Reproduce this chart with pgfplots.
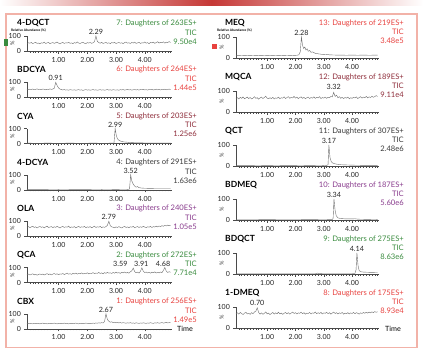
\documentclass[border=0pt]{standalone}
\usepackage{fontspec}
\setmainfont{Lato}
\usepackage{pgfplots}
\pgfplotsset{compat=1.18}
\definecolor{cgreen}{HTML}{3A8C3F}
\definecolor{cred}{HTML}{E8423F}
\definecolor{cmaroon}{HTML}{8F2E3B}
\definecolor{cdark}{HTML}{3A3A3A}
\definecolor{cpurple}{HTML}{8A3D8E}
\definecolor{cborder}{HTML}{F2B2A8}
\definecolor{trace}{HTML}{6E6E6E}
\definecolor{axc}{HTML}{4A4A4A}
\newcommand\lblfont{\fontsize{7.6}{8}\selectfont}
\newcommand\titlefont{\bfseries\fontsize{8.5}{9}\selectfont}
\newcommand\pkfont{\fontsize{7.2}{8}\selectfont}
\pgfplotsset{
  chrom/.style={
    scale only axis, anchor=south west,
    xmin=-0.1, xmax=4.95, ymin=0, ymax=100,
    axis lines=left, axis line style={-, draw=axc, line width=0.4pt},
    xtick={1,2,3,4}, minor xtick={0,0.1,...,4.9},
    ytick={0,100},
    tick align=outside, major tick length=2.6pt, minor tick length=1.6pt,
    tick style={draw=axc, line width=0.35pt},
    xticklabel style={/pgf/number format/.cd, fixed, fixed zerofill, precision=2, assume math mode=true},
    yticklabel style={/pgf/number format/assume math mode=true},
    tick label style={font=\fontsize{7}{8}\selectfont, text=black!85},
    ylabel={\%}, ylabel style={at={(axis description cs:-0.1,0.5)}, anchor=center, font=\fontsize{5.5}{6}\selectfont, text=black!80},
    clip=false,
    cycle list={{draw=trace, line width=0.35pt, mark=none}},
    no markers,
  },
  L/.style={chrom, width=145pt, height=15pt},
  R/.style={chrom, width=143pt, height=21pt},
}
\newcommand{\pk}[2]{\node[font=\pkfont, text=black!85, anchor=south, inner sep=0pt, yshift=1.2pt] at (axis cs:#1,100) {#2};}
\newcommand{\LT}[5]{%
  \node[anchor=west,inner sep=0pt,font=\titlefont] at (17,#1-27.5) {#2};
  \node[anchor=east,inner sep=0pt,font=\lblfont,text=#3] at (197,#1-27.5) {#4};
  \node[anchor=east,inner sep=0pt,font=\lblfont,text=#3] at (197,#1-18.5) {TIC};
  \node[anchor=east,inner sep=0pt,font=\lblfont,text=#3] at (197,#1-9.5) {#5};}
\newcommand{\RT}[5]{%
  \node[anchor=west,inner sep=0pt,font=\titlefont] at (225,#1-35) {#2};
  \node[anchor=east,inner sep=0pt,font=\lblfont,text=#3] at (404,#1-35) {#4};
  \node[anchor=east,inner sep=0pt,font=\lblfont,text=#3] at (404,#1-26) {TIC};
  \node[anchor=east,inner sep=0pt,font=\lblfont,text=#3] at (404,#1-17) {#5};}
\begin{document}
\begin{tikzpicture}
\useasboundingbox (0,0) rectangle (423pt,352pt);
\fill[white] (0,0) rectangle (423pt,352pt);
\shade[left color=white, right color=white, middle color=cred!85!black] (0,346pt) rectangle (423pt,352pt);
\draw[cborder, line width=1.3pt] (6pt,4.5pt) rectangle (417pt,338pt);
% ---------- LEFT COLUMN ----------
% 4-DQCT
\begin{axis}[L, at={(27pt,301pt)}]
\addplot coordinates {(-0.10,50)(-0.05,55)(0.00,52)(0.05,57)(0.10,49)(0.15,54)(0.20,58)(0.25,51)(0.30,53)(0.35,48)
(0.40,55)(0.45,52)(0.50,59)(0.55,50)(0.60,54)(0.65,57)(0.70,49)(0.75,53)(0.80,56)(0.85,51)
(0.90,55)(0.95,60)(1.00,52)(1.05,48)(1.10,54)(1.15,57)(1.20,50)(1.25,55)(1.30,53)(1.35,58)
(1.40,51)(1.45,54)(1.50,49)(1.55,56)(1.60,52)(1.65,60)(1.70,53)(1.75,50)(1.80,55)(1.85,58)
(1.90,52)(1.95,49)(2.00,56)(2.05,53)(2.10,57)(2.15,51)(2.20,55)(2.25,62)(2.30,100)(2.35,64)
(2.40,56)(2.45,52)(2.50,58)(2.55,50)(2.60,54)(2.65,57)(2.70,51)(2.75,55)(2.80,49)(2.85,56)
(2.90,53)(2.95,58)(3.00,50)(3.05,54)(3.10,57)(3.15,52)(3.20,55)(3.25,49)(3.30,56)(3.35,60)
(3.40,52)(3.45,55)(3.50,50)(3.55,57)(3.60,53)(3.65,59)(3.70,51)(3.75,54)(3.80,58)(3.85,50)
(3.90,55)(3.95,53)(4.00,60)(4.05,52)(4.10,56)(4.15,49)(4.20,57)(4.25,54)(4.30,59)(4.35,51)
(4.40,56)(4.45,62)(4.50,53)(4.55,58)(4.60,55)(4.65,61)(4.70,52)(4.75,59)(4.80,56)(4.85,63)(4.90,57)};
\pk{2.30}{2.29}
\end{axis}
% BDCYA
\begin{axis}[L, at={(27pt,254.7pt)}]
\addplot coordinates {(-0.10,53)(-0.05,51)(0.00,54)(0.05,52)(0.10,55)(0.15,51)(0.20,53)(0.25,56)(0.30,52)(0.35,54)
(0.40,51)(0.45,55)(0.50,53)(0.55,50)(0.60,54)(0.65,52)(0.70,56)(0.75,53)(0.80,55)(0.85,60)
(0.90,100)(0.95,78)(1.00,62)(1.05,55)(1.10,51)(1.15,49)(1.20,52)(1.25,48)(1.30,50)(1.35,47)
(1.40,51)(1.45,49)(1.50,48)(1.55,50)(1.60,47)(1.65,49)(1.70,51)(1.75,48)(1.80,50)(1.85,46)
(1.90,49)(1.95,51)(2.00,48)(2.05,50)(2.10,47)(2.15,49)(2.20,52)(2.25,48)(2.30,50)(2.35,47)
(2.40,49)(2.45,51)(2.50,48)(2.55,50)(2.60,47)(2.65,49)(2.70,52)(2.75,48)(2.80,50)(2.85,47)
(2.90,51)(2.95,49)(3.00,48)(3.05,50)(3.10,47)(3.15,51)(3.20,49)(3.25,52)(3.30,48)(3.35,50)
(3.40,53)(3.45,49)(3.50,51)(3.55,48)(3.60,50)(3.65,52)(3.70,49)(3.75,51)(3.80,48)(3.85,52)
(3.90,50)(3.95,53)(4.00,49)(4.05,51)(4.10,48)(4.15,52)(4.20,50)(4.25,53)(4.30,49)(4.35,51)
(4.40,54)(4.45,50)(4.50,52)(4.55,49)(4.60,53)(4.65,51)(4.70,54)(4.75,50)(4.80,52)(4.85,55)(4.90,51)};
\pk{0.90}{0.91}
\end{axis}
% CYA
\begin{axis}[L, at={(27pt,208.4pt)}]
\addplot coordinates {(-0.10,3)(0.30,2)(0.60,3)(1.00,2)(1.40,3)(1.80,2)(2.20,3)(2.60,2)(2.85,3)(2.93,4)(2.97,100)(3.01,55)(3.05,32)(3.10,22)(3.18,15)(3.28,11)(3.40,9)(3.50,7)(3.60,6)(3.80,5)(4.00,4)(4.40,3)(4.90,3)};
\pk{2.97}{2.99}
\end{axis}
% 4-DCYA
\begin{axis}[L, at={(27pt,162.1pt)}]
\addplot coordinates {(-0.10,2)(0.50,2)(1.00,3)(1.50,2)(2.00,2)(2.50,3)(3.00,2)(3.40,3)(3.47,5)(3.51,100)(3.55,60)(3.60,38)(3.65,25)(3.70,18)(3.75,22)(3.80,15)(3.90,12)(4.00,11)(4.20,10)(4.50,9)(4.90,9)};
\pk{3.51}{3.52}
\end{axis}
% OLA
\begin{axis}[L, at={(27pt,115.8pt)}]
\addplot coordinates {(-0.10,60)(-0.05,64)(0.00,57)(0.05,62)(0.10,66)(0.15,58)(0.20,63)(0.25,55)(0.30,61)(0.35,65)
(0.40,59)(0.45,63)(0.50,56)(0.55,62)(0.60,67)(0.65,58)(0.70,61)(0.75,64)(0.80,57)(0.85,63)
(0.90,59)(0.95,66)(1.00,60)(1.05,55)(1.10,62)(1.15,65)(1.20,58)(1.25,63)(1.30,60)(1.35,67)
(1.40,57)(1.45,62)(1.50,59)(1.55,64)(1.60,56)(1.65,61)(1.70,66)(1.75,58)(1.80,63)(1.85,60)
(1.90,65)(1.95,57)(2.00,62)(2.05,59)(2.10,64)(2.15,56)(2.20,61)(2.25,67)(2.30,58)(2.35,63)
(2.40,60)(2.45,65)(2.50,57)(2.55,62)(2.60,59)(2.65,64)(2.70,72)(2.75,100)(2.80,70)(2.85,62)
(2.90,60)(2.95,56)(3.00,62)(3.05,58)(3.10,64)(3.15,59)(3.20,55)(3.25,61)(3.30,66)(3.35,58)
(3.40,62)(3.45,57)(3.50,63)(3.55,60)(3.60,65)(3.65,56)(3.70,61)(3.75,64)(3.80,58)(3.85,63)
(3.90,59)(3.95,66)(4.00,61)(4.05,57)(4.10,63)(4.15,60)(4.20,65)(4.25,58)(4.30,64)(4.35,61)
(4.40,67)(4.45,62)(4.50,68)(4.55,64)(4.60,70)(4.65,66)(4.70,72)(4.75,68)(4.80,74)(4.85,70)(4.90,73)};
\pk{2.75}{2.79}
\end{axis}
% QCA
\begin{axis}[L, at={(27pt,69.5pt)}]
\addplot coordinates {(-0.10,52)(-0.05,56)(0.00,50)(0.05,54)(0.10,58)(0.15,51)(0.20,55)(0.25,49)(0.30,53)(0.35,57)
(0.40,52)(0.45,56)(0.50,50)(0.55,55)(0.60,59)(0.65,53)(0.70,57)(0.75,51)(0.80,56)(0.85,60)
(0.90,54)(0.95,58)(1.00,52)(1.05,57)(1.10,55)(1.15,60)(1.20,53)(1.25,58)(1.30,62)(1.35,55)
(1.40,59)(1.45,54)(1.50,61)(1.55,57)(1.60,63)(1.65,56)(1.70,60)(1.75,58)(1.80,64)(1.85,57)
(1.90,61)(1.95,59)(2.00,65)(2.05,58)(2.10,62)(2.15,60)(2.20,66)(2.25,59)(2.30,63)(2.35,61)
(2.40,67)(2.45,60)(2.50,64)(2.55,58)(2.60,66)(2.65,61)(2.70,68)(2.75,62)(2.80,65)(2.85,60)
(2.90,67)(2.95,62)(3.00,69)(3.05,63)(3.10,66)(3.15,61)(3.20,68)(3.25,64)(3.30,70)(3.35,63)
(3.40,67)(3.45,62)(3.50,71)(3.55,78)(3.60,96)(3.65,72)(3.70,65)(3.75,69)(3.80,63)(3.85,74)
(3.90,98)(3.95,75)(4.00,66)(4.05,70)(4.10,64)(4.15,68)(4.20,62)(4.25,69)(4.30,65)(4.35,71)
(4.40,63)(4.45,68)(4.50,64)(4.55,70)(4.60,66)(4.65,80)(4.70,100)(4.75,76)(4.80,67)(4.85,72)(4.90,68)};
\pk{3.15}{3.59}\pk{3.88}{3.91}\pk{4.64}{4.68}
\end{axis}
% CBX
\begin{axis}[L, at={(27pt,23.2pt)}]
\addplot coordinates {(-0.10,36)(-0.05,34)(0.00,37)(0.05,35)(0.10,33)(0.15,36)(0.20,34)(0.25,37)(0.30,35)(0.35,33)
(0.40,36)(0.45,38)(0.50,34)(0.55,36)(0.60,33)(0.65,35)(0.70,37)(0.75,34)(0.80,36)(0.85,38)
(0.90,35)(0.95,33)(1.00,36)(1.05,34)(1.10,37)(1.15,35)(1.20,38)(1.25,34)(1.30,36)(1.35,33)
(1.40,35)(1.45,37)(1.50,34)(1.55,36)(1.60,38)(1.65,35)(1.70,33)(1.75,36)(1.80,34)(1.85,37)
(1.90,35)(1.95,38)(2.00,36)(2.05,34)(2.10,37)(2.15,35)(2.20,38)(2.25,36)(2.30,39)(2.35,37)
(2.40,40)(2.45,38)(2.50,41)(2.55,39)(2.60,48)(2.65,100)(2.70,62)(2.75,50)(2.80,44)(2.85,47)
(2.90,41)(2.95,44)(3.00,40)(3.05,43)(3.10,39)(3.15,42)(3.20,38)(3.25,41)(3.30,39)(3.35,37)
(3.40,40)(3.45,38)(3.50,41)(3.55,37)(3.60,39)(3.65,36)(3.70,40)(3.75,38)(3.80,36)(3.85,39)
(3.90,37)(3.95,40)(4.00,38)(4.05,36)(4.10,39)(4.15,37)(4.20,41)(4.25,38)(4.30,36)(4.35,40)
(4.40,38)(4.45,41)(4.50,37)(4.55,39)(4.60,42)(4.65,38)(4.70,40)(4.75,43)(4.80,39)(4.85,41)(4.90,42)};
\pk{2.65}{2.67}
\end{axis}
% ---------- RIGHT COLUMN ----------
% MEQ
\begin{axis}[R, at={(236pt,294pt)}]
\addplot coordinates {(-0.10,12)(0.10,13)(0.30,12)(0.50,13)(0.70,12)(0.90,13)(1.10,12)(1.30,13)(1.50,12)(1.70,13)(1.90,12)(2.05,13)(2.12,15)(2.17,30)(2.21,100)(2.25,60)(2.29,45)(2.33,52)(2.37,38)(2.41,44)(2.45,32)(2.50,36)(2.55,27)(2.60,29)(2.70,22)(2.80,20)(2.90,18)(3.00,16)(3.10,17)(3.20,15)(3.40,14)(3.60,14)(3.80,13)(4.00,14)(4.20,13)(4.40,14)(4.60,13)(4.90,14)};
\pk{2.21}{2.28}
\end{axis}
% MQCA
\begin{axis}[R, at={(236pt,240pt)}]
\addplot coordinates {(-0.10,64)(-0.05,68)(0.00,62)(0.05,70)(0.10,65)(0.15,72)(0.20,63)(0.25,67)(0.30,71)(0.35,64)
(0.40,69)(0.45,62)(0.50,66)(0.55,73)(0.60,65)(0.65,68)(0.70,61)(0.75,67)(0.80,71)(0.85,64)
(0.90,69)(0.95,75)(1.00,66)(1.05,63)(1.10,68)(1.15,64)(1.20,70)(1.25,62)(1.30,67)(1.35,65)
(1.40,71)(1.45,63)(1.50,68)(1.55,66)(1.60,72)(1.65,64)(1.70,69)(1.75,73)(1.80,65)(1.85,70)
(1.90,67)(1.95,74)(2.00,66)(2.05,71)(2.10,64)(2.15,69)(2.20,72)(2.25,65)(2.30,70)(2.35,63)
(2.40,68)(2.45,71)(2.50,64)(2.55,69)(2.60,66)(2.65,72)(2.70,65)(2.75,70)(2.80,67)(2.85,73)
(2.90,64)(2.95,69)(3.00,66)(3.05,71)(3.10,65)(3.15,70)(3.20,68)(3.25,74)(3.30,72)(3.35,94)
(3.40,74)(3.45,80)(3.50,68)(3.55,73)(3.60,65)(3.65,70)(3.70,64)(3.75,69)(3.80,66)(3.85,71)
(3.90,63)(3.95,68)(4.00,65)(4.05,70)(4.10,67)(4.15,72)(4.20,64)(4.25,69)(4.30,73)(4.35,66)
(4.40,71)(4.45,68)(4.50,74)(4.55,67)(4.60,72)(4.65,69)(4.70,75)(4.75,70)(4.80,73)(4.85,78)(4.90,74)};
\pk{3.35}{3.32}
\end{axis}
% QCT
\begin{axis}[R, at={(236pt,186pt)}]
\addplot coordinates {(-0.10,2)(0.50,2)(1.00,3)(1.50,2)(2.00,2)(2.50,3)(3.00,2)(3.10,3)(3.15,6)(3.18,100)(3.22,40)(3.26,22)(3.30,15)(3.40,10)(3.50,8)(3.60,6)(3.80,5)(4.00,4)(4.40,3)(4.90,3)};
\pk{3.18}{3.17}
\end{axis}
% BDMEQ
\begin{axis}[R, at={(236pt,132pt)}]
\addplot coordinates {(-0.10,1)(0.50,1)(1.00,2)(1.50,1)(2.00,1)(2.50,2)(3.00,1)(3.30,2)(3.33,8)(3.36,100)(3.40,45)(3.44,20)(3.50,10)(3.60,7)(3.80,5)(4.00,5)(4.10,6)(4.20,4)(4.50,3)(4.90,2)};
\pk{3.36}{3.34}
\end{axis}
% BDQCT
\begin{axis}[R, at={(236pt,78pt)}]
\addplot coordinates {(-0.10,1)(0.50,1)(1.00,1)(1.50,1)(2.00,1)(2.70,1)(2.78,4)(2.85,2)(3.00,1)(3.50,1)(4.00,1)(4.10,3)(4.14,20)(4.17,100)(4.21,40)(4.25,16)(4.30,11)(4.40,9)(4.60,8)(4.90,7)};
\pk{4.17}{4.14}
\end{axis}
% 1-DMEQ
\begin{axis}[R, at={(236pt,24pt)}]
\addplot coordinates {(-0.10,68)(-0.05,72)(0.00,66)(0.05,74)(0.10,69)(0.15,64)(0.20,71)(0.25,75)(0.30,67)(0.35,70)
(0.40,65)(0.45,73)(0.50,68)(0.55,76)(0.60,80)(0.65,96)(0.70,74)(0.75,66)(0.80,72)(0.85,65)
(0.90,70)(0.95,77)(1.00,67)(1.05,71)(1.10,64)(1.15,69)(1.20,74)(1.25,66)(1.30,72)(1.35,68)
(1.40,75)(1.45,67)(1.50,71)(1.55,65)(1.60,70)(1.65,74)(1.70,68)(1.75,73)(1.80,66)(1.85,71)
(1.90,76)(1.95,69)(2.00,73)(2.05,67)(2.10,72)(2.15,70)(2.20,75)(2.25,68)(2.30,73)(2.35,66)
(2.40,71)(2.45,69)(2.50,74)(2.55,67)(2.60,72)(2.65,70)(2.70,76)(2.75,68)(2.80,73)(2.85,69)
(2.90,74)(2.95,67)(3.00,72)(3.05,70)(3.10,75)(3.15,68)(3.20,73)(3.25,66)(3.30,71)(3.35,76)
(3.40,69)(3.45,73)(3.50,67)(3.55,72)(3.60,69)(3.65,74)(3.70,66)(3.75,71)(3.80,68)(3.85,73)
(3.90,67)(3.95,72)(4.00,69)(4.05,74)(4.10,68)(4.15,73)(4.20,70)(4.25,66)(4.30,72)(4.35,69)
(4.40,74)(4.45,70)(4.50,75)(4.55,71)(4.60,76)(4.65,72)(4.70,77)(4.75,73)(4.80,78)(4.85,75)(4.90,77)};
\pk{0.65}{0.70}
\end{axis}
% ---------- texts ----------
\begin{scope}[x=1pt,y=-1pt,yshift=352pt]
\LT{51}{4-DQCT}{cgreen}{7: Daughters of 263ES+}{9.50e4}
\LT{97.3}{BDCYA}{cred}{6: Daughters of 264ES+}{1.44e5}
\LT{143.6}{CYA}{cmaroon}{5: Daughters of 203ES+}{1.25e6}
\LT{189.9}{4-DCYA}{cdark}{4: Daughters of 291ES+}{1.63e6}
\LT{236.2}{OLA}{cpurple}{3: Daughters of 240ES+}{1.05e5}
\LT{282.5}{QCA}{cgreen}{2: Daughters of 272ES+}{7.71e4}
\LT{328.8}{CBX}{cred}{1: Daughters of 256ES+}{1.49e5}
\RT{58}{MEQ}{cred}{13: Daughters of 219ES+}{3.48e5}
\RT{112}{MQCA}{cmaroon}{12: Daughters of 189ES+}{9.11e4}
\RT{166}{QCT}{cdark}{11: Daughters of 307ES+}{2.48e6}
\RT{220}{BDMEQ}{cpurple}{10: Daughters of 187ES+}{5.60e6}
\RT{274}{BDQCT}{cgreen}{9: Daughters of 275ES+}{8.63e6}
\RT{328}{1-DMEQ}{cred}{8: Daughters of 175ES+}{8.93e4}
\node[anchor=west,inner sep=0pt,font=\bfseries\fontsize{3.3}{4}\selectfont] at (11,30) {Relative Abundance (\%)};
\node[anchor=west,inner sep=0pt,font=\bfseries\fontsize{3.3}{4}\selectfont] at (217,30) {Relative Abundance (\%)};
\node[anchor=west,inner sep=0pt,font=\fontsize{7.2}{8}\selectfont] at (177,329) {Time};
\node[anchor=west,inner sep=0pt,font=\fontsize{7.2}{8}\selectfont] at (385,329) {Time};
\fill[cgreen] (4,39) rectangle (8,46);
\fill[cred] (212,44) rectangle (217,49);
\end{scope}
\end{tikzpicture}
\end{document}
